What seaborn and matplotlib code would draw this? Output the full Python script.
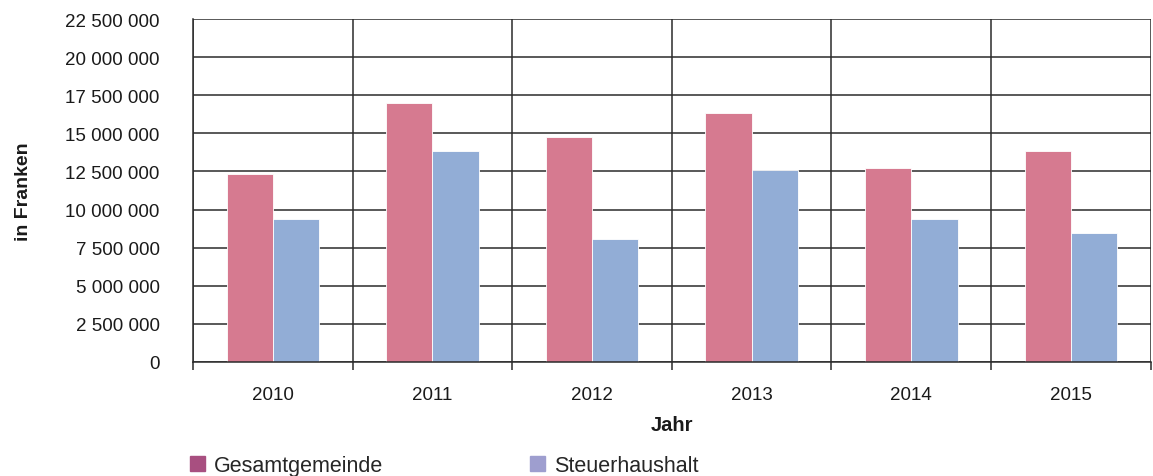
import numpy as np
import pandas as pd
import matplotlib
matplotlib.use("Agg")
import matplotlib.pyplot as plt
import matplotlib.patches as mpatches
from matplotlib.ticker import FuncFormatter, FixedLocator
import seaborn as sns

# ---------------------------------------------------
# Data
# ---------------------------------------------------
jahre = ["2010", "2011", "2012", "2013", "2014", "2015"]
gesamtgemeinde = [12330000, 16970000, 14740000, 16360000, 12720000, 13830000]
steuerhaushalt = [9350000, 13830000, 8080000, 12590000, 9350000, 8470000]
serien = ["Gesamtgemeinde", "Steuerhaushalt"]

df = pd.DataFrame({
    "Jahr": jahre * 2,
    "Wert": gesamtgemeinde + steuerhaushalt,
    "Serie": [serien[0]] * len(jahre) + [serien[1]] * len(jahre),
})

bar_colors = ["#D67A90", "#92ADD6"]
legend_colors = ["#A84F80", "#9E9ECF"]

# ---------------------------------------------------
# Plot
# ---------------------------------------------------
sns.set_theme(style="white")
plt.rcParams["font.family"] = ["Liberation Sans", "DejaVu Sans"]

fig = plt.figure(figsize=(11.53, 4.77), dpi=100)
ax = fig.add_axes([0.1674, 0.239, 0.8306, 0.719])

sns.barplot(data=df, x="Jahr", y="Wert", hue="Serie", palette=bar_colors,
            width=0.58, ax=ax, legend=False, saturation=1,
            edgecolor="white", linewidth=0.6)

ax.set_xlim(-0.5, len(jahre) - 0.5)
ax.set_ylim(0, 22500000)
ax.set_yticks(np.arange(0, 22500001, 2500000))
ax.yaxis.set_major_formatter(FuncFormatter(lambda v, p: f"{int(v):,}".replace(",", " ")))

# gridlines
ax.set_axisbelow(True)
ax.yaxis.grid(True, color="#2b2b2b", linewidth=1.1)
ax.xaxis.set_minor_locator(FixedLocator(np.arange(-0.5, len(jahre), 1.0)))
ax.xaxis.grid(True, which="minor", color="#2b2b2b", linewidth=1.1)

for s in ["top", "right"]:
    ax.spines[s].set_visible(False)
for s in ["left", "bottom"]:
    ax.spines[s].set_color("#2b2b2b")
    ax.spines[s].set_linewidth(1.1)

ax.tick_params(axis="y", length=0, pad=24, labelsize=13.5, colors="#1a1a1a")
ax.tick_params(axis="x", which="major", length=0, pad=17, labelsize=13.5, colors="#1a1a1a")
ax.tick_params(axis="x", which="minor", bottom=True, length=6, width=1.1, color="#2b2b2b")

ax.set_xlabel("Jahr", fontsize=14.5, fontweight="bold", color="#1a1a1a", labelpad=9)
ax.set_ylabel("in Franken", fontsize=14, fontweight="bold", color="#1a1a1a")
ax.yaxis.set_label_coords(-0.168, 0.5)

# legend
handles = [mpatches.Patch(color=c, label=l) for c, l in zip(legend_colors, serien)]
fig.legend(handles=handles, loc="lower left", bbox_to_anchor=(0.148, -0.04),
           ncol=2, frameon=False, fontsize=15.5, handlelength=0.7, handleheight=0.7,
           handletextpad=0.4, columnspacing=6.85)

fig.savefig("out.png", dpi=100)
